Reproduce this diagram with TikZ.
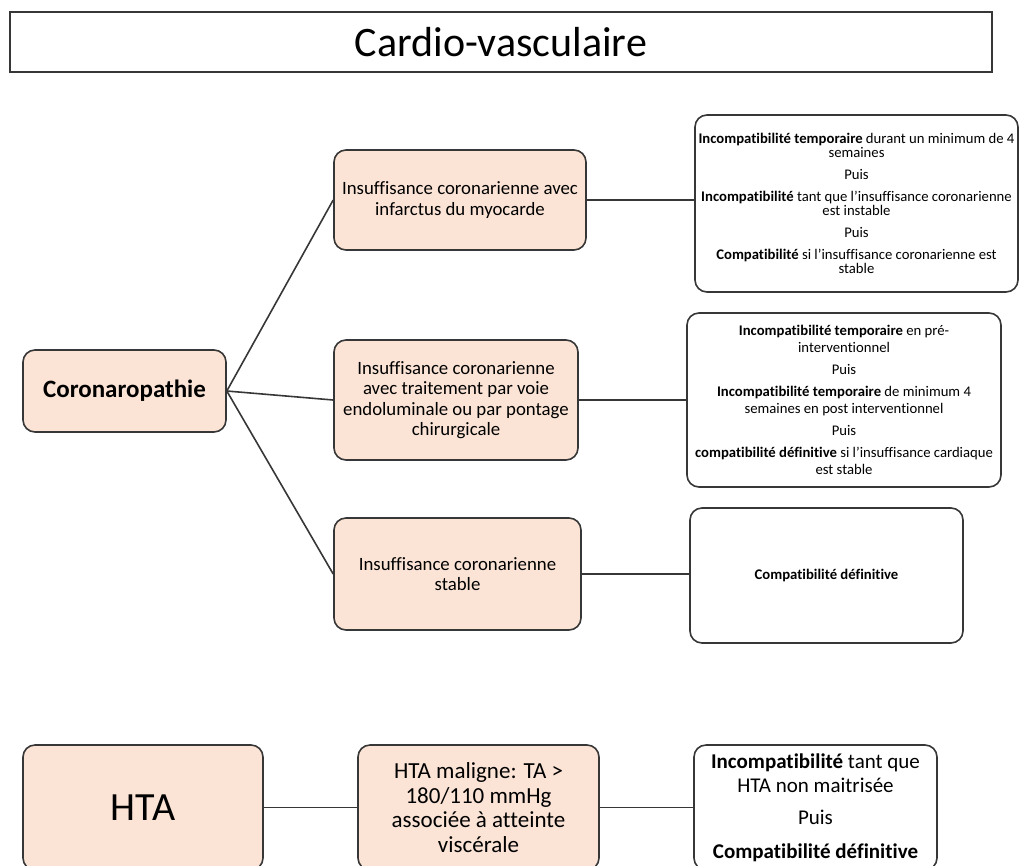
\documentclass[tikz,border=0pt]{standalone}
\usepackage{fontspec}
\setmainfont{Carlito}[Ligatures={TeX,NoCommon}]
\usepackage{tikz}
\definecolor{box_peach}{RGB}{251,228,214}
\definecolor{edge_gray}{RGB}{55,55,55}
\newcommand{\smalltxt}{\fontsize{14.7}{14}\selectfont\lineskiplimit=-6pt\relax}

\begin{document}
\begin{tikzpicture}[-,x=1pt,y=-1pt,line width=1.6pt]
    \tikzstyle{box}=[draw=edge_gray, rounded corners=12pt, align=center, text=black, inner sep=2pt]
    \tikzstyle{pb}=[style=box, fill=box_peach]
    \tikzstyle{wb}=[style=box, fill=white]
    \tikzstyle{small}=[font=\smalltxt]
    \tikzstyle{mid}=[font=\fontsize{18.8}{20.5}\selectfont]
    \useasboundingbox (0,0) rectangle (1019,865);
    \node[draw=edge_gray, minimum width=982pt, minimum height=60pt, font=\fontsize{42}{48}\selectfont] (T) at (501,42) {Cardio-vasculaire};

    \node[pb, minimum width=203pt, minimum height=82pt, font=\fontsize{25}{30}\selectfont\bfseries] (A) at (124.5,391) {Coronaropathie};
    \node[pb,mid, minimum width=252pt, minimum height=100pt] (B1) at (460,200) {Insuffisance coronarienne avec\\ infarctus du myocarde};
    \node[pb,mid, minimum width=244pt, minimum height=120pt] (B2) at (456,400) {Insuffisance coronarienne\\ avec traitement par voie\\ endoluminale ou par pontage\\ chirurgicale};
    \node[pb,mid, minimum width=247pt, minimum height=112pt] (B3) at (457.5,574) {Insuffisance coronarienne\\ stable};

    \node[wb,small, minimum width=323pt, minimum height=177pt] (R1) at (856.5,203.5) {\textbf{Incompatibilité temporaire} durant un minimum de 4\\ semaines\\[8pt] Puis\\[8pt] \textbf{Incompatibilité} tant que l'insuffisance coronarienne\\ est instable\\[8pt] Puis\\[8pt] \textbf{Compatibilité} si l'insuffisance coronarienne est\\ stable};
    \node[wb,small, minimum width=314pt, minimum height=174pt] (R2) at (844,400) {\textbf{Incompatibilité temporaire} en pré-\\[3pt] interventionnel\\[8pt] Puis\\[8pt] \textbf{Incompatibilité temporaire} de minimum 4\\[3pt] semaines en post interventionnel\\[8pt] Puis\\[8pt] \textbf{compatibilité définitive} si l'insuffisance cardiaque\\[3pt] est stable};
    \node[wb,small, minimum width=273pt, minimum height=135pt] (R3) at (826.5,575.5) {\textbf{Compatibilité définitive}};

    \node[pb, minimum width=240pt, minimum height=125pt, font=\fontsize{40}{48}\selectfont] (H) at (143,807.5) {HTA};
    \node[pb, minimum width=241pt, minimum height=125pt, font=\fontsize{23}{24.5}\selectfont] (H1) at (478.5,807.5) {HTA maligne: TA >\\ 180/110 mmHg\\ associée à atteinte\\ viscérale};
    \node[wb, minimum width=243pt, minimum height=125pt, font=\fontsize{21}{24}\selectfont] (H2) at (815.5,807.5) {\textbf{Incompatibilité} tant que\\ HTA non maitrisée\\[8pt] Puis\\[10pt] \textbf{Compatibilité définitive}};

    \path[draw=edge_gray, line width=1.6pt]
     (A.east) edge (B1.west)
     (A.east) edge (B2.west)
     (A.east) edge (B3.west)
     (B1.east) edge (B1.east -| R1.west)
     (B2.east) edge (B2.east -| R2.west)
     (B3.east) edge (B3.east -| R3.west)
     (H) edge (H1)
     (H1) edge (H2);
\end{tikzpicture}
\end{document}
